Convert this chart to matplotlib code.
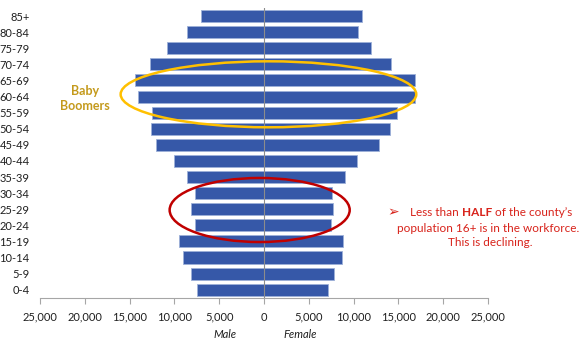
import matplotlib.pyplot as plt
import numpy as np
from matplotlib.patches import Ellipse

# Age groups (bottom to top) and population counts
ages = ['0-4', '5-9', '10-14', '15-19', '20-24', '25-29', '30-34', '35-39',
        '40-44', '45-49', '50-54', '55-59', '60-64', '65-69', '70-74',
        '75-79', '80-84', '85+']
male = [7450, 8100, 9050, 9500, 7750, 8100, 7750, 8600,
        10050, 12000, 12650, 12500, 14050, 14450, 12750,
        10800, 8550, 7000]
female = [7100, 7800, 8700, 8800, 7450, 7700, 7550, 9050,
          10400, 12850, 14100, 14850, 16900, 16900, 14150,
          11950, 10500, 10950]
xticks = [-25000, -20000, -15000, -10000, -5000, 0, 5000, 10000, 15000, 20000, 25000]

plt.rcParams['font.family'] = ['Lato', 'DejaVu Sans']

bar_col = '#3658A8'
edge_col = '#9DB0D8'
txt_col = '#1f1f1f'
red = '#D8231B'

fig = plt.figure(figsize=(5.84, 3.39), dpi=100)
ax = fig.add_axes([0.0685, 0.1218, 0.767, 0.8545])

y = np.arange(len(ages))
ax.barh(y, -np.array(male), height=0.75, color=bar_col, edgecolor=edge_col, linewidth=0.6)
ax.barh(y, female, height=0.75, color=bar_col, edgecolor=edge_col, linewidth=0.6)

ax.set_xlim(-25000, 25000)
ax.set_ylim(-0.5, len(ages) - 0.5)
ax.set_xticks(xticks)
ax.set_xticklabels(['{:,}'.format(abs(v)) for v in xticks])
ax.set_yticks(y)
ax.set_yticklabels(ages)
ax.tick_params(axis='y', length=0, pad=7.5, labelsize=8, labelcolor=txt_col)
ax.tick_params(axis='x', length=4, width=0.8, color='#A6A6A6', pad=6,
               labelsize=8, labelcolor=txt_col)
for s in ['top', 'right', 'left']:
    ax.spines[s].set_visible(False)
ax.spines['bottom'].set_color('#A6A6A6')
ax.spines['bottom'].set_linewidth(0.8)
ax.axvline(0, color='#8C8C8C', lw=0.8, zorder=3)

fig.text(225 / 584, 1 - 334 / 339, 'Male', style='italic', fontsize=8,
         color=txt_col, ha='center', va='center')
fig.text(300 / 584, 1 - 334 / 339, 'Female', style='italic', fontsize=8,
         color=txt_col, ha='center', va='center')

# Baby boomers highlight
ax.add_patch(Ellipse((500, 12.14), 33000, 4.1, fill=False, edgecolor='#FFC000',
                     lw=1.8, zorder=4, clip_on=False))
ax.text(-20000, 11.9, 'Baby\nBoomers', color='#C49A1C', fontsize=9,
        fontweight='bold', ha='center', va='center', linespacing=1.3)

# Workforce-age highlight
ax.add_patch(Ellipse((-480, 4.95), 20100, 3.98, fill=False, edgecolor='#C00000',
                     lw=1.8, zorder=4, clip_on=False))

# Side note
fs = 8.5
t0 = fig.text(393 / 584, 1 - 212 / 339, '\u27a2', color=red, fontsize=10,
              family=['DejaVu Sans'], ha='center', va='center')
t1 = fig.text(410 / 584, 1 - 212 / 339, 'Less than ', color=red, fontsize=fs,
              ha='left', va='center')
t2 = ax.annotate('HALF', xy=(1, 0), xycoords=t1, va='bottom', ha='left',
                 color=red, fontsize=fs, fontweight='bold')
t3 = ax.annotate(' of the county\u2019s', xy=(1, 0), xycoords=t2, va='bottom',
                 ha='left', color=red, fontsize=fs)
fig.text(488 / 584, 1 - 228 / 339, 'population 16+ is in the workforce.',
         color=red, fontsize=fs, ha='center', va='center')
fig.text(490 / 584, 1 - 243 / 339, 'This is declining.',
         color=red, fontsize=fs, ha='center', va='center')

fig.savefig('out.png', dpi=100)
